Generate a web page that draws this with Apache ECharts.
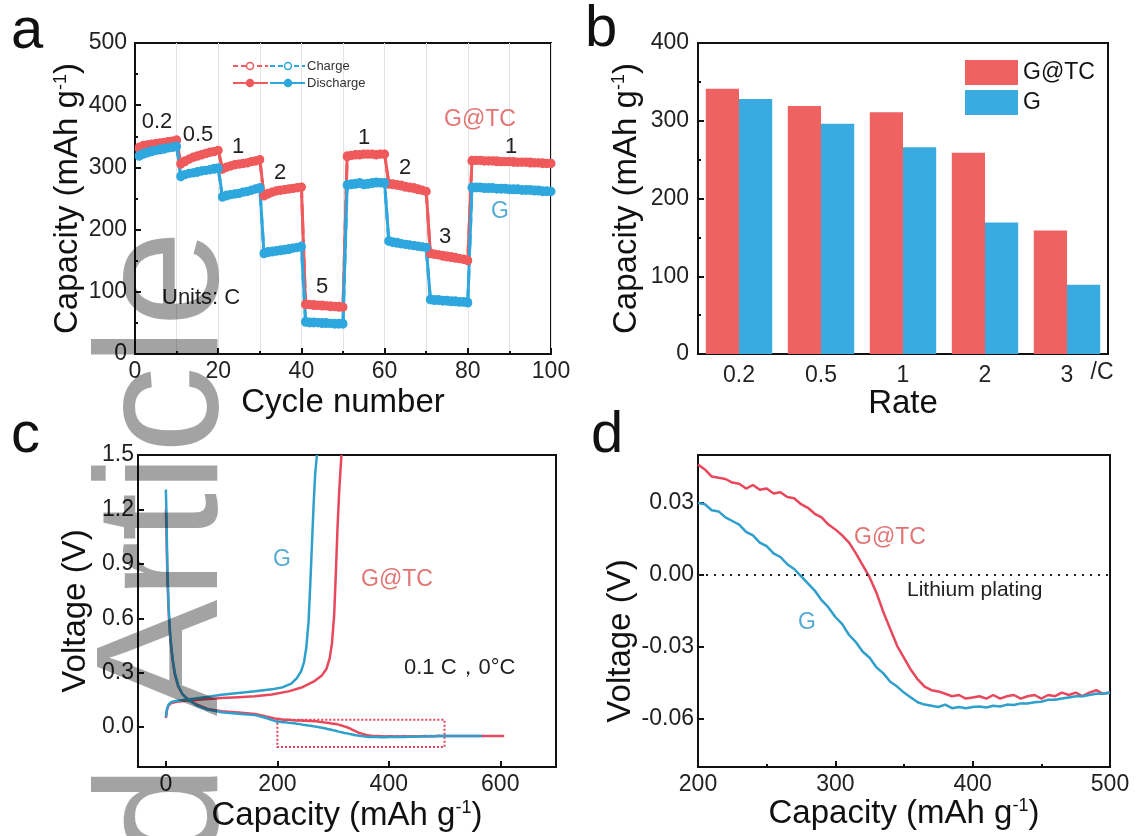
<!DOCTYPE html>
<html>
<head>
<meta charset="utf-8">
<script src="https://cdn.jsdelivr.net/npm/echarts@6.0.0/dist/echarts.min.js"></script>
<style>
html, body { margin: 0; padding: 0; background: #fff; }
#main { width: 1137px; height: 836px; }
</style>
</head>
<body>
<div id="main"></div>
<script>
// ---- panel a: rate test, capacity per cycle ----
var cycles = Array.from({ length: 100 }, function (_, i) { return i + 1; });
var gtcDischarge = [
  333, 336, 337, 338, 339, 340, 341, 342, 343, 345,
  307, 311, 314, 317, 319, 321, 323, 325, 326, 328,
  299, 301, 303, 305, 306, 307, 308, 310, 311, 313,
  256, 259, 261, 263, 264, 265, 266, 267, 268, 269,
  81, 80, 80, 79, 79, 78, 78, 77, 77, 76,
  319, 320, 321, 321, 322, 322, 322, 321, 322, 322,
  275, 274, 273, 272, 270, 269, 268, 266, 264, 262,
  163, 161, 160, 159, 158, 157, 156, 154, 153, 151,
  312, 312, 312, 311, 311, 311, 311, 310, 310, 310, 310, 309, 309, 309, 309, 308, 308, 308, 307, 307
];
var gtcCharge = [
  330, 334, 336, 337, 338, 339, 340, 341, 342, 343,
  305, 309, 313, 316, 318, 320, 322, 324, 325, 327,
  297, 300, 302, 304, 305, 306, 307, 309, 310, 312,
  254, 257, 260, 262, 263, 264, 265, 266, 267, 268,
  79, 79, 78, 78, 77, 77, 76, 76, 75, 75,
  317, 319, 320, 320, 321, 321, 321, 320, 321, 321,
  273, 272, 271, 270, 268, 267, 266, 264, 263, 261,
  161, 160, 159, 157, 156, 155, 154, 153, 152, 150,
  310, 311, 311, 310, 310, 310, 309, 309, 309, 309, 308, 308, 308, 308, 307, 307, 307, 306, 306, 306
];
var gDischarge = [
  320, 323, 325, 327, 328, 330, 331, 332, 333, 335,
  287, 289, 291, 292, 294, 295, 296, 297, 299, 300,
  254, 256, 257, 258, 259, 261, 262, 264, 266, 268,
  163, 165, 166, 167, 168, 169, 170, 171, 172, 174,
  53, 52, 52, 51, 51, 51, 50, 50, 50, 50,
  273, 274, 275, 276, 274, 275, 276, 277, 276, 276,
  183, 181, 180, 178, 177, 176, 175, 174, 173, 172,
  89, 88, 88, 87, 87, 86, 86, 85, 85, 84,
  269, 269, 269, 268, 268, 268, 267, 267, 267, 266, 266, 266, 265, 265, 265, 264, 264, 263, 263, 262
];
var gCharge = [
  318, 321, 323, 325, 327, 328, 329, 331, 332, 333,
  285, 288, 290, 291, 292, 294, 295, 296, 297, 298,
  252, 254, 256, 257, 258, 260, 261, 263, 265, 266,
  161, 163, 164, 165, 166, 167, 168, 170, 171, 172,
  51, 50, 50, 50, 49, 49, 49, 48, 48, 48,
  271, 272, 273, 274, 272, 273, 274, 275, 275, 274,
  181, 179, 178, 177, 176, 175, 174, 173, 172, 171,
  87, 86, 86, 85, 85, 84, 84, 83, 83, 82,
  267, 267, 267, 266, 266, 266, 265, 265, 265, 264, 264, 264, 263, 263, 263, 262, 262, 261, 261, 261
];

// ---- panel b: capacity per rate ----
var rates = ['0.2', '0.5', '1', '2', '3'];
var rateGTC = [341, 319, 311, 259, 159];
var rateG = [328, 296, 266, 169, 89];

// ---- panel c: voltage profiles [capacity, voltage] ----
var gChargeC = [[0, 0.055], [2, 0.1], [5, 0.125], [10, 0.138], [20, 0.145], [40, 0.152], [70, 0.165], [100, 0.178],
  [130, 0.188], [160, 0.197], [190, 0.208], [210, 0.22], [225, 0.24], [235, 0.27], [243, 0.31], [248, 0.36],
  [252, 0.44], [256, 0.58], [259, 0.78], [262, 1.0], [265, 1.22], [268, 1.4], [271, 1.5]];
var gtcChargeC = [[0, 0.05], [2, 0.095], [5, 0.12], [10, 0.133], [20, 0.14], [40, 0.146], [70, 0.153], [100, 0.16],
  [130, 0.165], [160, 0.17], [190, 0.18], [220, 0.197], [245, 0.22], [265, 0.25], [280, 0.285], [288, 0.32],
  [294, 0.38], [298, 0.46], [302, 0.62], [305, 0.85], [308, 1.1], [311, 1.3], [315, 1.5]];
var gDisHead = [[0, 1.31], [1, 1.18], [2, 1.0], [3, 0.85], [5, 0.66], [8, 0.5], [12, 0.38], [16, 0.3], [22, 0.23],
  [30, 0.18], [40, 0.15], [55, 0.12], [75, 0.097], [100, 0.082], [130, 0.074], [160, 0.066], [180, 0.05], [195, 0.034]];
var gtcDisHead = [[0, 1.2], [1, 1.08], [2, 0.93], [3, 0.8], [5, 0.63], [8, 0.48], [12, 0.37], [16, 0.29], [22, 0.225],
  [30, 0.18], [40, 0.152], [55, 0.125], [75, 0.1], [100, 0.087], [130, 0.08], [160, 0.072], [180, 0.058], [195, 0.048]];
var gDisTail = [[520, -0.049], [545, -0.049], [567, -0.049]];
var gtcDisTail = [[520, -0.049], [560, -0.049], [607, -0.049]];
var boxCap = [200, 500];
var boxVolt = [-0.11, 0.04];

// ---- panel d: plating region, step 5 mAh/g from 200 to 500 ----
var dCap = Array.from({ length: 61 }, function (_, i) { return 200 + 5 * i; });
var gtcPlate = [
  0.046, 0.044, 0.041, 0.0405, 0.040, 0.0385, 0.038, 0.036, 0.0375, 0.0355,
  0.036, 0.034, 0.0345, 0.0325, 0.032, 0.0295, 0.028, 0.0255, 0.024, 0.021,
  0.019, 0.0165, 0.0135, 0.009, 0.004, -0.001, -0.0075, -0.0155, -0.0225, -0.0295,
  -0.0345, -0.0395, -0.0435, -0.0465, -0.048, -0.0485, -0.0495, -0.0505, -0.050, -0.0515,
  -0.051, -0.0505, -0.0515, -0.050, -0.0515, -0.0505, -0.050, -0.0515, -0.0505, -0.050,
  -0.0515, -0.050, -0.0505, -0.049, -0.050, -0.049, -0.0505, -0.049, -0.048, -0.0495, -0.049
];
var gPlate = [
  0.030, 0.0295, 0.027, 0.0265, 0.024, 0.0225, 0.021, 0.018, 0.0165, 0.0135,
  0.012, 0.009, 0.0075, 0.0045, 0.0025, -0.0005, -0.0035, -0.0065, -0.0105, -0.0135,
  -0.0175, -0.0205, -0.025, -0.028, -0.032, -0.0345, -0.0385, -0.041, -0.0445, -0.0465,
  -0.049, -0.051, -0.053, -0.054, -0.0545, -0.055, -0.054, -0.0555, -0.055, -0.0555,
  -0.055, -0.0548, -0.0552, -0.0545, -0.0548, -0.054, -0.0542, -0.0535, -0.0535, -0.053,
  -0.0528, -0.052, -0.052, -0.0515, -0.051, -0.0505, -0.0505, -0.050, -0.0495, -0.0495, -0.049
];

var RED = '#ef5a5c', BLUE = '#2ea7de';
var RED_C = '#e8485c', BLUE_C = '#2f9fcb';
var RED_TXT = '#e27474', BLUE_TXT = '#55aad4';

function pairs(xs, ys) { return xs.map(function (x, i) { return [x, ys[i]]; }); }

function ax(extra) {
  var base = {
    nameLocation: 'middle',
    axisLine: { show: true, onZero: false, lineStyle: { color: '#111', width: 2 } },
    axisTick: { show: true, inside: true, length: 6, lineStyle: { color: '#111', width: 2 } },
    axisLabel: { color: '#222', fontSize: 23 },
    splitLine: { show: false },
    nameTextStyle: { color: '#111', fontSize: 33, rich: { sup: { fontSize: 18, verticalAlign: 'top', color: '#111' } } }
  };
  for (var k in extra) {
    if (base[k] && typeof base[k] === 'object' && !Array.isArray(base[k]) &&
        extra[k] && typeof extra[k] === 'object' && !Array.isArray(extra[k])) {
      base[k] = Object.assign({}, base[k], extra[k]);
    } else {
      base[k] = extra[k];
    }
  }
  return base;
}

var capName = 'Capacity (mAh g{sup|-1})';

function txt(x, y, s, size, color, align) {
  return { type: 'text', x: x, y: y, silent: true, z: 50,
    style: { text: s, fontSize: size, fontFamily: 'Liberation Sans', fill: color, align: align || 'center', verticalAlign: 'middle' } };
}
function seg(x1, x2, y, color, dashed) {
  return { type: 'line', silent: true, z: 50, shape: { x1: x1, y1: y, x2: x2, y2: y },
    style: { stroke: color, lineWidth: 2, lineDash: dashed ? [5, 3] : null } };
}
function dot(cx, cy, color, hollow) {
  return { type: 'circle', silent: true, z: 51, shape: { cx: cx, cy: cy, r: 3.5 },
    style: { fill: hollow ? '#fff' : color, stroke: color, lineWidth: 1.5 } };
}

function lineA(name, data, color, dashed) {
  return {
    name: name, type: 'line', xAxisIndex: 0, yAxisIndex: 0, data: pairs(cycles, data),
    symbol: dashed ? 'emptyCircle' : 'circle', symbolSize: 7,
    lineStyle: { color: color, width: 3, type: dashed ? 'dashed' : 'solid' },
    itemStyle: { color: color, borderColor: color, borderWidth: 1.5 }
  };
}
function lineCD(name, axisIdx, data, color) {
  return {
    name: name, type: 'line', xAxisIndex: axisIdx, yAxisIndex: axisIdx, data: data,
    showSymbol: false, smooth: false,
    lineStyle: { color: color, width: 2.5 }
  };
}

var chart = echarts.init(document.getElementById('main'));
chart.setOption({
  animation: false,
  backgroundColor: '#fff',
  textStyle: { fontFamily: 'Liberation Sans, Arial, sans-serif' },
  grid: [
    { left: 135, top: 43, width: 416, height: 311, show: true, borderColor: '#111', borderWidth: 2 },
    { left: 698, top: 43, width: 410, height: 311, show: true, borderColor: '#111', borderWidth: 2 },
    { left: 138, top: 455, width: 418, height: 312, show: true, borderColor: '#111', borderWidth: 2 },
    { left: 698, top: 455, width: 412, height: 312, show: true, borderColor: '#111', borderWidth: 2 }
  ],
  legend: {
    data: ['G@TC', 'G'], left: 960, top: 55, orient: 'vertical', icon: 'rect',
    itemWidth: 53, itemHeight: 25, itemGap: 5,
    textStyle: { fontSize: 23, color: '#111' }
  },
  xAxis: [
    ax({ gridIndex: 0, type: 'value', min: 0, max: 100, interval: 20,
      minorTick: { show: true, splitNumber: 2, length: 3, lineStyle: { color: '#111', width: 2 } },
      splitLine: { show: true, lineStyle: { color: '#e4e4e4', width: 1 } },
      minorSplitLine: { show: true, lineStyle: { color: '#e4e4e4', width: 1 } },
      axisLabel: { margin: 6 },
      name: 'Cycle number', nameGap: 32 }),
    ax({ gridIndex: 1, type: 'category', data: rates, axisTick: { show: false },
      axisLabel: { margin: 10 }, name: 'Rate', nameGap: 30 }),
    ax({ gridIndex: 2, type: 'value', min: -50, max: 700,
      axisLabel: { margin: 6, customValues: [0, 200, 400, 600] },
      axisTick: { customValues: [0, 200, 400, 600] },
      name: capName, nameGap: 32 }),
    ax({ gridIndex: 3, type: 'value', min: 200, max: 500, interval: 100,
      minorTick: { show: true, splitNumber: 2, length: 3, lineStyle: { color: '#111', width: 2 } },
      axisLabel: { margin: 6 },
      name: capName, nameGap: 30 })
  ],
  yAxis: [
    ax({ gridIndex: 0, type: 'value', min: 0, max: 500, interval: 100,
      minorTick: { show: true, splitNumber: 2, length: 3, lineStyle: { color: '#111', width: 2 } },
      axisLabel: { margin: 8 }, name: capName, nameGap: 46 }),
    ax({ gridIndex: 1, type: 'value', min: 0, max: 400, interval: 100,
      minorTick: { show: true, splitNumber: 2, length: 3, lineStyle: { color: '#111', width: 2 } },
      axisLabel: { margin: 9 }, name: capName, nameGap: 55 }),
    ax({ gridIndex: 2, type: 'value', min: -0.22, max: 1.5,
      axisLabel: { margin: 4, customValues: [0, 0.3, 0.6, 0.9, 1.2, 1.5],
        formatter: function (v) { return v.toFixed(1); } },
      axisTick: { customValues: [0, 0.3, 0.6, 0.9, 1.2, 1.5] },
      name: 'Voltage (V)', nameGap: 46 }),
    ax({ gridIndex: 3, type: 'value', min: -0.08, max: 0.05,
      axisLabel: { margin: 4, customValues: [-0.06, -0.03, 0, 0.03],
        formatter: function (v) { return v.toFixed(2); } },
      axisTick: { customValues: [-0.06, -0.03, 0, 0.03] },
      name: 'Voltage (V)', nameGap: 56,
      nameTextStyle: { padding: [0, 60, 0, 0] } })
  ],
  series: [
    lineA('G@TC charge', gtcCharge, RED, true),
    lineA('G@TC discharge', gtcDischarge, RED, false),
    lineA('G charge', gCharge, BLUE, true),
    lineA('G discharge', gDischarge, BLUE, false),

    { name: 'G@TC', type: 'bar', xAxisIndex: 1, yAxisIndex: 1, data: rateGTC,
      barGap: '0%', barCategoryGap: '19%', itemStyle: { color: '#ef6262' } },
    { name: 'G', type: 'bar', xAxisIndex: 1, yAxisIndex: 1, data: rateG,
      barGap: '0%', barCategoryGap: '19%', itemStyle: { color: '#3aabe1' } },

    lineCD('G@TC charge c', 2, gtcChargeC, RED_C),
    lineCD('G@TC discharge c', 2, gtcDisHead.concat(pairs(dCap, gtcPlate), gtcDisTail), RED_C),
    lineCD('G charge c', 2, gChargeC, BLUE_C),
    Object.assign(lineCD('G discharge c', 2, gDisHead.concat(pairs(dCap, gPlate), gDisTail), BLUE_C), {
      markArea: {
        silent: true,
        itemStyle: { color: 'rgba(0,0,0,0)', borderColor: '#e0405a', borderWidth: 2, borderType: 'dotted' },
        label: { show: false },
        data: [[{ coord: [boxCap[0], boxVolt[1]] }, { coord: [boxCap[1], boxVolt[0]] }]]
      }
    }),

    lineCD('G@TC plating', 3, pairs(dCap, gtcPlate), RED_C),
    Object.assign(lineCD('G plating', 3, pairs(dCap, gPlate), BLUE_C), {
      markLine: {
        silent: true, symbol: 'none', label: { show: false },
        lineStyle: { color: '#222', width: 2, type: [2, 6] },
        data: [{ yAxis: 0 }]
      }
    })
  ],
  graphic: [
    // panel letters
    txt(11, 32, 'a', 58, '#111', 'left'),
    txt(585, 30, 'b', 58, '#111', 'left'),
    txt(11, 436, 'c', 58, '#111', 'left'),
    txt(591, 436, 'd', 58, '#111', 'left'),
    // panel a legend
    seg(233, 268, 66, RED, true), dot(250, 66, RED, true),
    seg(270, 305, 66, BLUE, true), dot(288, 66, BLUE, true),
    txt(307, 66, 'Charge', 13, '#333', 'left'),
    seg(233, 268, 83, RED, false), dot(250, 83, RED, false),
    seg(270, 305, 83, BLUE, false), dot(288, 83, BLUE, false),
    txt(307, 83, 'Discharge', 13, '#333', 'left'),
    // panel a annotations
    txt(157, 122, '0.2', 22, '#222'),
    txt(198, 135, '0.5', 22, '#222'),
    txt(238, 147, '1', 22, '#222'),
    txt(280, 173, '2', 22, '#222'),
    txt(322, 287, '5', 22, '#222'),
    txt(364, 138, '1', 22, '#222'),
    txt(405, 168, '2', 22, '#222'),
    txt(445, 237, '3', 22, '#222'),
    txt(511, 147, '1', 22, '#222'),
    txt(480, 120, 'G@TC', 23, RED_TXT),
    txt(500, 212, 'G', 23, BLUE_TXT),
    txt(162, 298, 'Units: C', 22, '#222', 'left'),
    // panel b axis unit
    txt(1102, 373, '/C', 23, '#222'),
    // panel c annotations
    txt(282, 560, 'G', 23, BLUE_TXT),
    txt(397, 580, 'G@TC', 23, RED_TXT),
    txt(404, 668, '0.1 C，0°C', 22, '#222', 'left'),
    // panel d annotations
    txt(890, 538, 'G@TC', 23, RED_TXT),
    txt(807, 623, 'G', 23, BLUE_TXT),
    txt(907, 590, 'Lithium plating', 21, '#222', 'left'),
    // watermark
    { type: 'text', x: 169, y: 230, rotation: Math.PI / 2, silent: true, z: 100,
      style: { text: 'Accepted Article', fontSize: 175, fontFamily: 'Liberation Sans',
        fill: 'rgba(0,0,0,0.36)', align: 'right', verticalAlign: 'middle' } }
  ]
});
</script>
</body>
</html>
